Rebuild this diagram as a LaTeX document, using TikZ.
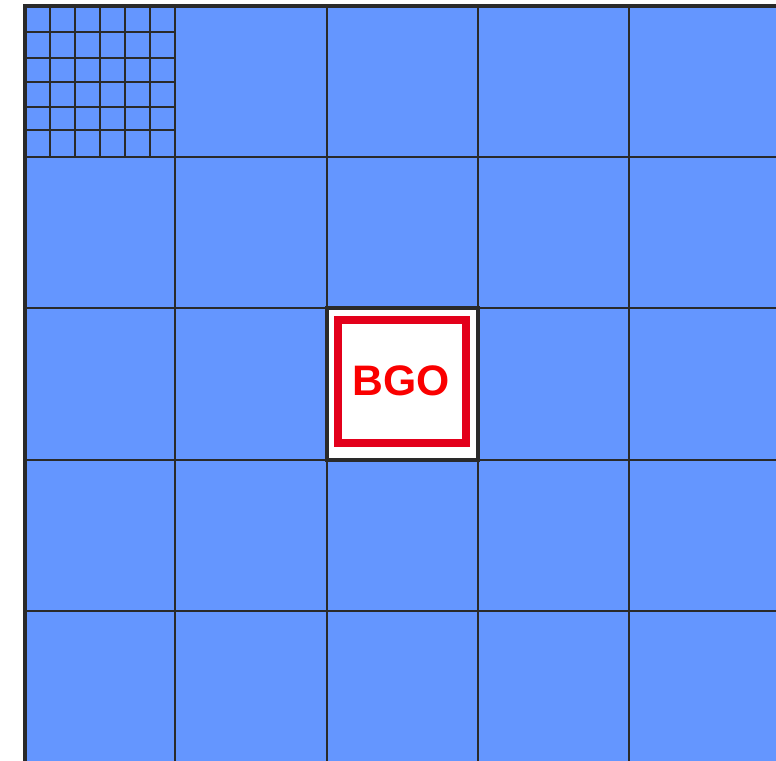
\documentclass[tikz,border=0pt]{standalone}
\usepackage{fontspec}
\setmainfont{Liberation Sans}
\definecolor{cellblue}{RGB}{100,150,255}
\definecolor{gridline}{RGB}{42,42,42}
\definecolor{bgored}{RGB}{227,0,27}
\definecolor{bgotext}{RGB}{250,0,0}
\begin{document}
\begin{tikzpicture}[x=0.75pt,y=-0.75pt,
  mainline/.style={draw=gridline,line width=1.9pt},
  fineline/.style={draw=gridline,line width=1.1pt},
  borderline/.style={draw=gridline,line width=3pt}]
\useasboundingbox (0,0) rectangle (776,761);
\clip (0,0) rectangle (776,761);
% blue field
\fill[cellblue] (25,6) rectangle (782,764);
% fine grid in the top-left cell
\foreach \x in {50,75,100,125,150} \draw[fineline] (\x,6) -- (\x,157);
\foreach \y in {32,58,82,107,130} \draw[fineline] (25,\y) -- (175,\y);
% main grid
\foreach \x in {175,327,478,629} \draw[mainline] (\x,6) -- (\x,764);
\foreach \y in {157,308,460,611} \draw[mainline] (25,\y) -- (782,\y);
% outer borders
\draw[borderline] (25,764) -- (25,6) -- (782,6);
% centre cell
\fill[white] (327,308) rectangle (478,460);
\draw[draw=gridline,line width=2.4pt] (327,308) rectangle (478,460);
\draw[draw=bgored,line width=6pt] (338,320) rectangle (466,443);
\node[text=bgotext,font=\bfseries\fontsize{32}{36}\selectfont,inner sep=0pt] (bgo) at (401,381) {BGO};
\end{tikzpicture}
\end{document}
